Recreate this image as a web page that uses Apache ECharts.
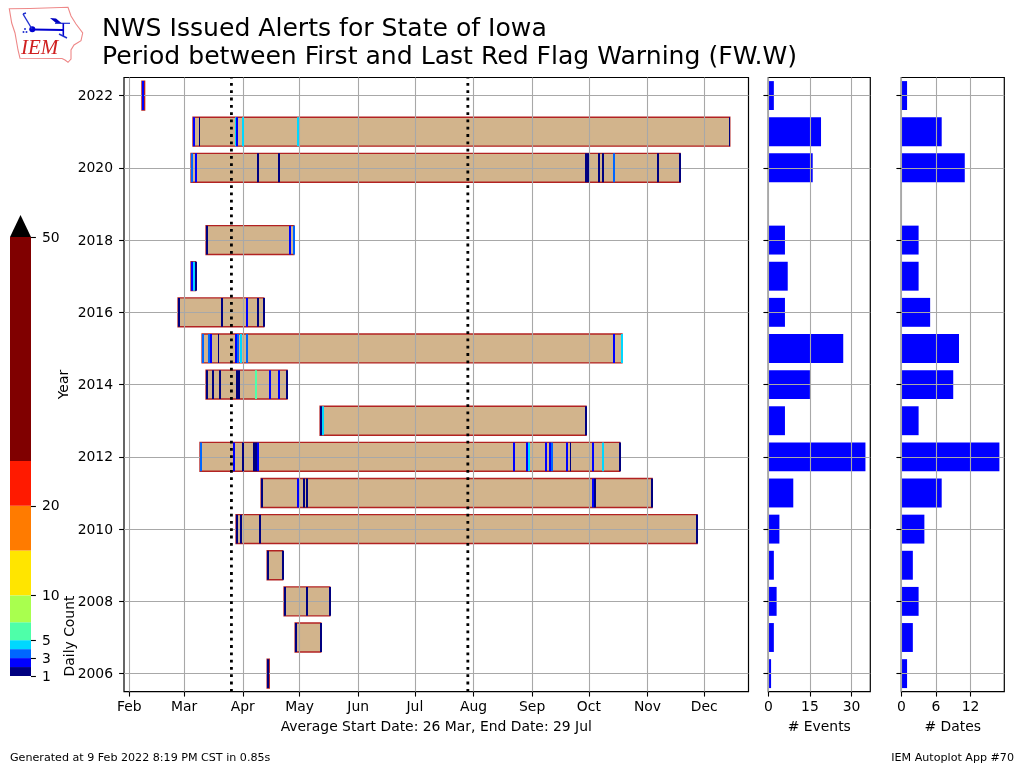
<!DOCTYPE html>
<html>
<head>
<meta charset="utf-8">
<style>html,body{margin:0;padding:0;background:#fff}#c{width:1024px;height:768px}</style>
<script src="https://cdn.jsdelivr.net/npm/echarts@6/dist/echarts.min.js"></script>
</head>
<body>
<div id="c"></div>
<script>
// Month ticks on a leap-year day-of-year scale
const monthDays = [32, 61, 92, 122, 153, 183, 214, 245, 275, 306, 336];
const monthLabels = ['Feb','Mar','Apr','May','Jun','Jul','Aug','Sep','Oct','Nov','Dec'];
const yearTicks = [2006,2008,2010,2012,2014,2016,2018,2020,2022];
const years = [2006,2007,2008,2009,2010,2011,2012,2013,2014,2015,2016,2017,2018,2019,2020,2021,2022];
const eventCounts = [1,2,3,2,4,9,35,6,15,27,6,7,6,0,16,19,2];
const dateCounts  = [1,2,3,2,4,7,17,3,9,10,5,3,3,0,11,7,1];
const meanLines = [86, 211];
// [year, first day, last day]
const spans = [
 [2022,38.7,40.1],[2021,65.7,349.5],[2020,64.65,323.2],[2018,72.6,119.0],[2017,64.65,67.0],
 [2016,57.8,103.1],[2015,70.5,292.5],[2014,72.6,115.4],[2013,132.9,273.5],[2012,69.4,291.3],
 [2011,101.7,308.4],[2010,88.46,332.2],[2009,104.9,113.1],[2008,113.85,138.0],[2007,119.7,133.25],[2006,104.9,106.0]
];
// [year, day, width in days, daily count]
const dailyMarks = [
 [2022,38.7,1.05,2],
 [2021,65.7,1,2],[2021,68.9,0.5,1],[2021,87.9,1,4],[2021,88.5,1,2],[2021,91.6,1,4],[2021,120.7,1,4],[2021,349.3,0.5,1],
 [2020,64.65,1,3],[2020,66.76,1,2],[2020,99.6,1,1],[2020,110.7,1,1],[2020,273.1,1,1],[2020,274.1,1,1],[2020,280,1,1],[2020,282.1,1,1],[2020,287.9,1,3],[2020,311.2,1,1],[2020,322.85,1,1],
 [2018,72.6,1,1],[2018,116.5,1,2],[2018,118.6,1,3],
 [2017,64.65,1,2],[2017,65.7,1,4],[2017,66.76,1,1],
 [2016,57.8,1,1],[2016,80.5,1,1],[2016,93.75,1,2],[2016,99.6,1,1],[2016,102.7,1,1],
 [2015,70.5,1,3],[2015,73.6,1,3],[2015,74.7,1,2],[2015,78.9,0.5,1],[2015,87.9,1,2],[2015,89,1,3],[2015,90.6,1,4],[2015,93.75,1,3],[2015,287.9,1,2],[2015,292.2,1,4],
 [2014,72.6,1,1],[2014,75.8,1,1],[2014,79.5,1,1],[2014,88.46,1,1],[2014,89.5,1,1],[2014,98.5,1,5],[2014,105.9,1,2],[2014,110.7,1,2],[2014,114.9,1,1],
 [2013,132.9,1,1],[2013,134,1,4],[2013,273.1,1,1],
 [2012,69.4,1,3],[2012,86.9,1,2],[2012,91.6,1,1],[2012,97.45,1,1],[2012,98.5,1,1],[2012,99.6,1,2],[2012,235,1,2],[2012,241.9,1,2],[2012,243,1,4],[2012,252,1,2],[2012,254.1,1,2],[2012,255.1,1,3],[2012,263.1,1,2],[2012,265.2,0.5,1],[2012,276.8,1,2],[2012,282.1,1,4],[2012,291.1,1,1],
 [2011,101.7,1,1],[2011,120.7,1,2],[2011,123.9,1,1],[2011,125.5,1,1],[2011,276.8,1,2],[2011,277.9,1,1],[2011,308.05,1,1],
 [2010,88.46,1,1],[2010,90.6,1,1],[2010,100.6,1,1],[2010,331.85,1,1],
 [2009,104.9,1,1],[2009,112.8,1,1],
 [2008,113.85,1,1],[2008,125.5,1,1],[2008,137.7,1,1],
 [2007,119.7,1,1],[2007,132.9,1,1],
 [2006,104.9,1,1]
];
const levels = [1,2,3,4,5,7,10,15,20,25,50];
const levelColors = ['#000080','#0000ff','#0066ff','#00d8ff','#4effa9','#a9ff4e','#ffe500','#ff7b00','#ff1a00','#800000'];
const levelTicks = [1,3,5,10,20,50];
const levelOverflow = 52.45;

const FONT = 'DejaVu Sans';
const TAN = '#d2b48c', EDGE = '#b22222', GRID = '#a8a8a8';
const LBL = {fontFamily: FONT, fontSize: 13.9, color: '#000'};
const axisTickStyle = {show:true, length:4.9, lineStyle:{color:'#000', width:1.1}};

function colorFor(n){
  for (let i = levels.length-2; i >= 0; i--) if (n >= levels[i]) return levelColors[i];
  return levelColors[0];
}
function rectShape(api, x0, x1, y0, y1){
  const a = api.coord([x0, y1]), b = api.coord([x1, y0]);
  return {x:a[0], y:a[1], width:b[0]-a[0], height:b[1]-a[1]};
}
// same rectangle, with its left and right edges on whole pixels
function snappedShape(api, x0, x1, y0, y1){
  const s = rectShape(api, x0, x1, y0, y1);
  const left = Math.round(s.x);
  return {x:left, y:s.y, width:Math.max(1, Math.round(s.width)), height:s.height};
}
const gridBase = {show:true, top:77.5, height:614.2, borderColor:'#000', borderWidth:1.2, backgroundColor:'#fff', containLabel:false};

const sideYAxis = (gridIndex) => ({
  type:'category', gridIndex, data:years, inverse:false, z:2,
  axisLine:{show:false},
  axisTick:Object.assign({alignWithLabel:true, interval:1}, axisTickStyle),
  axisLabel:{show:false},
  splitLine:{show:true, alignWithLabel:true, interval:1, lineStyle:{color:GRID, width:1.1}}
});
const sideXAxis = (gridIndex, max, ticks, name) => ({
  type:'value', gridIndex, min:0, max, z:2,
  name, nameLocation:'middle', nameGap:29, nameTextStyle:LBL,
  axisLine:{show:false},
  axisTick:Object.assign({customValues:ticks}, axisTickStyle),
  axisLabel:Object.assign({customValues:ticks, margin:9}, LBL),
  splitLine:{show:true, lineStyle:{color:GRID, width:1.1}}
});
const footStyle = {fontFamily:FONT, fontSize:11.11, fontWeight:'normal', color:'#000'};

const option = {
  animation:false,
  backgroundColor:'#fff',
  textStyle:{fontFamily:FONT},
  title:[
    {text:'NWS Issued Alerts for State of Iowa\nPeriod between First and Last Red Flag Warning (FW.W)',
     left:102, top:15, padding:0, textStyle:{fontFamily:FONT, fontSize:25.1, fontWeight:'normal', color:'#000', lineHeight:28}},
    {text:'Generated at 9 Feb 2022 8:19 PM CST in 0.85s', left:10, top:752.5, padding:0, textStyle:footStyle},
    {text:'IEM Autoplot App #70', right:10, top:752.5, padding:0, textStyle:footStyle}
  ],
  grid:[
    Object.assign({}, gridBase, {left:124, width:624.5}),
    Object.assign({}, gridBase, {left:768.3, width:102}),
    Object.assign({}, gridBase, {left:901.3, width:103}),
    {show:false, left:10, width:21, top:237, height:439}
  ],
  xAxis:[
    {type:'value', gridIndex:0, min:29.2, max:359.4, z:2,
     name:'Average Start Date: 26 Mar, End Date: 29 Jul', nameLocation:'middle', nameGap:29, nameTextStyle:LBL,
     axisLine:{show:false},
     axisTick:Object.assign({customValues:monthDays}, axisTickStyle),
     axisLabel:Object.assign({customValues:monthDays, margin:9, formatter:v=>monthLabels[monthDays.indexOf(v)]}, LBL),
     splitLine:{show:true, lineStyle:{color:GRID, width:1.1}}},
    sideXAxis(1, 36.75, [0,15,30], '# Events'),
    sideXAxis(2, 17.85, [0,6,12], '# Dates'),
    {type:'value', gridIndex:3, min:0, max:1, show:false}
  ],
  yAxis:[
    {type:'value', gridIndex:0, min:2005.5, max:2022.5, z:2,
     name:'Year', nameLocation:'middle', nameGap:53, nameMoveOverlap:false, nameTextStyle:LBL,
     axisLine:{show:false},
     axisTick:Object.assign({customValues:yearTicks}, axisTickStyle),
     axisLabel:Object.assign({customValues:yearTicks, margin:11, verticalAlign:'top', lineHeight:14, padding:[-6,0,0,0], formatter:v=>String(v)}, LBL),
     splitLine:{show:true, lineStyle:{color:GRID, width:1.1}}},
    sideYAxis(1),
    sideYAxis(2),
    {type:'value', gridIndex:3, position:'right', min:1, max:50, z:5,
     axisLine:{show:false, onZero:false}, splitLine:{show:false},
     axisTick:Object.assign({customValues:levelTicks}, axisTickStyle),
     axisLabel:Object.assign({customValues:levelTicks, margin:11, verticalAlign:'top', lineHeight:14, padding:[-6,0,0,0]}, LBL)}
  ],
  series:[
    {type:'custom', name:'Period', xAxisIndex:0, yAxisIndex:0, z:1, clip:false, data:spans,
     encode:{x:[1,2], y:0},
     renderItem:(p,api)=>({type:'rect',
       shape:rectShape(api, api.value(1), api.value(2), api.value(0)-0.4, api.value(0)+0.4),
       style:{fill:TAN, stroke:EDGE, lineWidth:1.4}})},
    {type:'custom', name:'Daily', xAxisIndex:0, yAxisIndex:0, z:3, clip:false, data:dailyMarks,
     encode:{x:1, y:0},
     renderItem:(p,api)=>({type:'rect',
       shape:snappedShape(api, api.value(1), api.value(1)+api.value(2), api.value(0)-0.4, api.value(0)+0.4),
       style:{fill:colorFor(api.value(3))}})},
    {type:'line', name:'Average Start', xAxisIndex:0, yAxisIndex:0, z:4, symbol:'none', silent:true,
     data:[[meanLines[0],2005.5],[meanLines[0],2022.5]],
     lineStyle:{color:'#000', width:2.8, type:[2.8,4.5]}},
    {type:'line', name:'Average End', xAxisIndex:0, yAxisIndex:0, z:4, symbol:'none', silent:true,
     data:[[meanLines[1],2005.5],[meanLines[1],2022.5]],
     lineStyle:{color:'#000', width:2.8, type:[2.8,4.5]}},
    {type:'bar', name:'# Events', xAxisIndex:1, yAxisIndex:1, z:1, barWidth:'80%', data:eventCounts, itemStyle:{color:'#0000ff'}},
    {type:'bar', name:'# Dates', xAxisIndex:2, yAxisIndex:2, z:1, barWidth:'80%', data:dateCounts, itemStyle:{color:'#0000ff'}},
    {type:'custom', name:'Colorbar', xAxisIndex:3, yAxisIndex:3, z:2, clip:false,
     data:levelColors.map((c,i)=>[levels[i],levels[i+1],i]),
     encode:{y:[0,1]},
     renderItem:(p,api)=>({type:'rect',
       shape:rectShape(api, 0, 1, api.value(0), api.value(1)),
       style:{fill:levelColors[api.value(2)]}})},
    {type:'custom', name:'Colorbar extend', xAxisIndex:3, yAxisIndex:3, z:2, clip:false,
     data:[[50,levelOverflow]], encode:{y:[0,1]},
     renderItem:(p,api)=>({type:'polygon',
       shape:{points:[api.coord([0,api.value(0)]),api.coord([1,api.value(0)]),api.coord([0.5,api.value(1)])]},
       style:{fill:'#000'}})}
  ],
  graphic:[
    {type:'text', x:70.5, y:636, rotation:Math.PI/2, originX:0, originY:0,
     style:{text:'Daily Count', font:'13.9px "DejaVu Sans"', fill:'#000', align:'center', verticalAlign:'middle'}},
    {type:'group', x:0, y:0, silent:true, children:[
      {type:'polygon', shape:{points:[[9.3,8.7],[30,8.5],[68,7.3],[71,16],[76,24],[82.7,33],[81,40.7],[74,45],[71,50],[71,59],[68,62.3],[65,60],[62,58.5],[20,58.3],[18,50],[15,33],[11.7,23]]},
       style:{fill:'#fff', stroke:'#e88', lineWidth:1.1}},
      {type:'line', shape:{x1:32,y1:29.5,x2:63,y2:30}, style:{stroke:'#0000d0', lineWidth:2}},
      {type:'circle', shape:{cx:32.3,cy:29.3,r:3}, style:{fill:'#0000d0'}},
      {type:'line', shape:{x1:32,y1:29,x2:23,y2:14}, style:{stroke:'#2030d0', lineWidth:1.4}},
      {type:'line', shape:{x1:23,y1:14,x2:26,y2:13}, style:{stroke:'#2030d0', lineWidth:1.4}},
      {type:'polygon', shape:{points:[[50,18],[56,18.5],[62,23.5],[56,23]]}, style:{fill:'#0000c0'}},
      {type:'line', shape:{x1:55,y1:23.3,x2:70,y2:23.3}, style:{stroke:'#2030d0', lineWidth:1.2}},
      {type:'line', shape:{x1:63.3,y1:23.3,x2:63.3,y2:36}, style:{stroke:'#0000d0', lineWidth:1.6}},
      {type:'line', shape:{x1:59,y1:34,x2:67,y2:38}, style:{stroke:'#2030d0', lineWidth:1.4}},
      {type:'circle', shape:{cx:25,cy:29,r:1}, style:{fill:'#2030d0'}},
      {type:'circle', shape:{cx:23.5,cy:32,r:1}, style:{fill:'#2030d0'}},
      {type:'circle', shape:{cx:26.5,cy:32,r:1}, style:{fill:'#2030d0'}},
      {type:'text', x:21, y:38, style:{text:'IEM', font:'italic 21px "Liberation Serif"', fill:'#d02020'}}
    ]}
  ]
};
const chart = echarts.init(document.getElementById('c'), null, {renderer:'canvas', width:1024, height:768});
chart.setOption(option);
</script>
</body>
</html>
